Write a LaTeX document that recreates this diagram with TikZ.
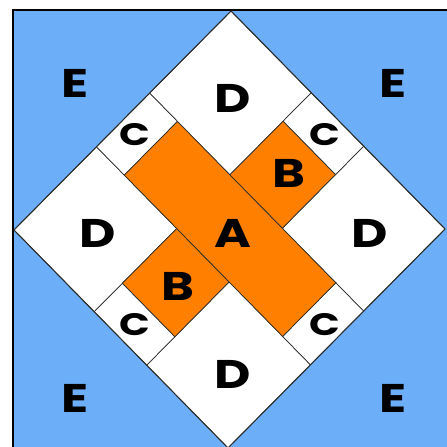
\documentclass[tikz,border=0pt]{standalone}
\usepackage{fontspec}
\newfontfamily\labfont{Poppins}
\definecolor{skyb}{RGB}{108,174,248}
\definecolor{orng}{RGB}{255,128,0}
\definecolor{seam}{RGB}{45,45,45}
\tikzset{
  piece/.style={draw=seam, line width=0.7pt, line join=miter},
  whitepc/.style={piece, fill=white},
  orangepc/.style={piece, fill=orng},
  lab/.style={font=\labfont\bfseries\fontsize{40}{40}\selectfont, xscale=1.25, inner sep=0pt},
  smalllab/.style={font=\labfont\bfseries\fontsize{31}{31}\selectfont, xscale=1.3, inner sep=0pt}
}
\begin{document}
\begin{tikzpicture}
\useasboundingbox (0,0) rectangle (447pt,-447pt);
\clip (0,0) rectangle (447pt,-447pt);
% blue background square
\fill[skyb] (13pt,-10pt) rectangle (460pt,-460pt);
\draw[black, line width=1.6pt] (13pt,-460pt) -- (13pt,-10pt) -- (460pt,-10pt);
% diamond block in skewed coordinates
\begin{scope}[shift={(231pt,-11pt)}, x={(214pt,-218pt)}, y={(-217pt,-219pt)}]
  % D pieces
  \path[whitepc] (0,0) -- (0.375,0) -- (0.375,0.375) -- (0,0.375) -- cycle;
  \path[whitepc] (0.62,0) -- (1,0) -- (1,0.375) -- (0.62,0.375) -- cycle;
  \path[whitepc] (0,0.62) -- (0.375,0.62) -- (0.375,1) -- (0,1) -- cycle;
  \path[whitepc] (0.62,0.62) -- (1,0.62) -- (1,1) -- (0.62,1) -- cycle;
  % C pieces
  \path[whitepc] (0,0.375) -- (0.13,0.375) -- (0.13,0.62) -- (0,0.62) -- cycle;
  \path[whitepc] (0.375,0) -- (0.62,0) -- (0.62,0.13) -- (0.375,0.13) -- cycle;
  \path[whitepc] (0.87,0.375) -- (1,0.375) -- (1,0.62) -- (0.87,0.62) -- cycle;
  \path[whitepc] (0.375,0.87) -- (0.62,0.87) -- (0.62,1) -- (0.375,1) -- cycle;
  % B pieces
  \path[orangepc] (0.375,0.13) -- (0.62,0.13) -- (0.62,0.375) -- (0.375,0.375) -- cycle;
  \path[orangepc] (0.375,0.62) -- (0.62,0.62) -- (0.62,0.87) -- (0.375,0.87) -- cycle;
  % A bar
  \path[orangepc] (0.13,0.375) -- (0.87,0.375) -- (0.87,0.62) -- (0.13,0.62) -- cycle;
  % outline of diamond
  \draw[seam, line width=1pt] (0,0) -- (1,0) -- (1,1) -- (0,1) -- cycle;
\end{scope}
% labels
\node[lab] (e1) at (75pt,-83pt) {E};
\node[lab] (e2) at (393pt,-83pt) {E};
\node[lab] (e3) at (75pt,-398pt) {E};
\node[lab] (e4) at (393pt,-398pt) {E};
\node[lab] (d1) at (233pt,-98pt) {D};
\node[lab] (d2) at (98pt,-233pt) {D};
\node[lab] (d3) at (370pt,-233pt) {D};
\node[lab] (d4) at (233pt,-374pt) {D};
\node[smalllab] (c1) at (135pt,-135pt) {C};
\node[smalllab] (c2) at (325pt,-135pt) {C};
\node[smalllab] (c3) at (135pt,-325pt) {C};
\node[smalllab] (c4) at (325pt,-325pt) {C};
\node[lab] (b1) at (289pt,-173pt) {B};
\node[lab] (b2) at (178pt,-286pt) {B};
\node[lab] (a) at (233pt,-233pt) {A};
\end{tikzpicture}
\end{document}
